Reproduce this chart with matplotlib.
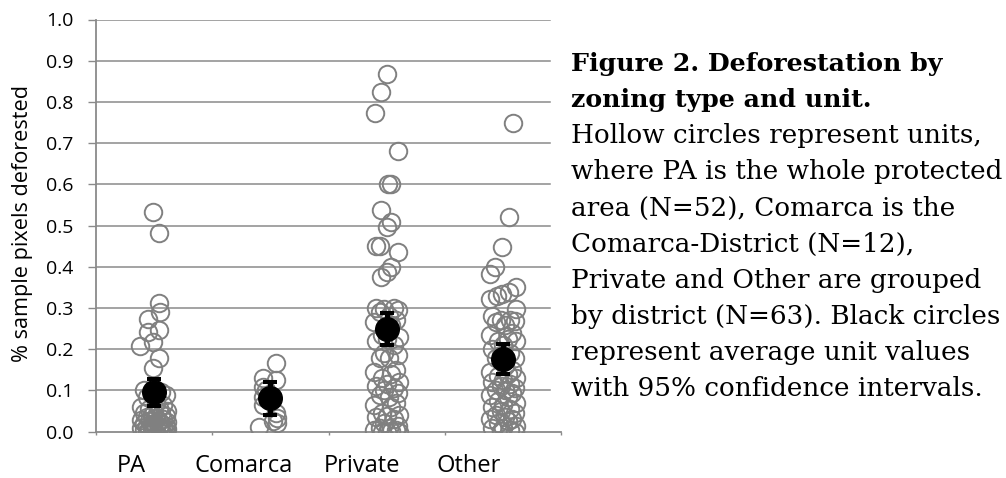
import matplotlib.pyplot as plt
import numpy as np

categories = ["PA", "Comarca", "Private", "Other"]

# Unit values per zoning type. The sparse upper points carry their own
# horizontal jitter; the dense lower ones are spread with a fixed pattern.
pa_upper = [0.534, 0.481, 0.313, 0.291, 0.273, 0.247, 0.243, 0.218, 0.209, 0.178, 0.154]
pa_upper_dx = [-0.01, 0.04, 0.04, 0.05, -0.05, 0.04, -0.05, -0.01, -0.12, 0.04, -0.01]
pa_lower = [0.100, 0.097, 0.095, 0.090, 0.085, 0.070, 0.065, 0.060, 0.058, 0.055,
            0.050, 0.048, 0.045, 0.042, 0.040, 0.038, 0.035, 0.033, 0.030, 0.028,
            0.026, 0.025, 0.023, 0.021, 0.020, 0.018, 0.016, 0.015, 0.013, 0.012,
            0.010, 0.009, 0.008, 0.007, 0.006, 0.005, 0.004, 0.003, 0.002, 0.001,
            0.000]

comarca_upper = [0.166, 0.130, 0.125, 0.109, 0.100, 0.085, 0.065, 0.045, 0.033, 0.025, 0.020, 0.012]
comarca_upper_dx = [0.05, -0.06, 0.05, -0.06, -0.04, -0.06, -0.06, 0.05, 0.06, 0.02, 0.06, -0.10]
comarca_lower = []

private_upper = [0.867, 0.825, 0.772, 0.681, 0.601, 0.601, 0.538, 0.509, 0.497,
                 0.450, 0.450, 0.437, 0.400, 0.388, 0.376]
private_upper_dx = [0.0, -0.05, -0.10, 0.10, 0.01, 0.04, -0.05, 0.04, 0.0,
                    -0.09, -0.06, 0.10, 0.04, 0.0, -0.05]
private_lower = [0.300, 0.300, 0.298, 0.295, 0.290, 0.280, 0.270, 0.265, 0.260, 0.235,
                 0.230, 0.225, 0.220, 0.210, 0.190, 0.185, 0.180, 0.180, 0.150, 0.145,
                 0.140, 0.130, 0.120, 0.115, 0.110, 0.105, 0.100, 0.095, 0.090, 0.085,
                 0.070, 0.065, 0.060, 0.045, 0.040, 0.038, 0.035, 0.030, 0.020, 0.015,
                 0.010, 0.008, 0.005, 0.003, 0.002, 0.000, 0.000, 0.000]

other_upper = [0.750, 0.521, 0.449, 0.400, 0.382, 0.350, 0.340, 0.334, 0.330, 0.322, 0.297]
other_upper_dx = [0.09, 0.05, -0.01, -0.07, -0.11, 0.11, 0.05, -0.01, -0.05, -0.11, 0.11]
other_lower = [0.280, 0.270, 0.270, 0.268, 0.265, 0.260, 0.240, 0.235, 0.225, 0.220,
               0.220, 0.210, 0.200, 0.190, 0.185, 0.180, 0.180, 0.160, 0.150, 0.145,
               0.140, 0.135, 0.130, 0.125, 0.120, 0.115, 0.110, 0.105, 0.100, 0.100,
               0.095, 0.090, 0.085, 0.075, 0.070, 0.065, 0.060, 0.055, 0.050, 0.045,
               0.040, 0.035, 0.030, 0.030, 0.025, 0.020, 0.015, 0.010, 0.008, 0.005,
               0.002, 0.000]

# group means with 95% confidence limits
means = [0.096, 0.081, 0.249, 0.176]
ci_low = [0.062, 0.040, 0.210, 0.140]
ci_high = [0.129, 0.121, 0.289, 0.213]

yticks = [0.0, 0.1, 0.2, 0.3, 0.4, 0.5, 0.6, 0.7, 0.8, 0.9, 1.0]

caption_bold = ["Figure 2. Deforestation by", "zoning type and unit."]
caption_body = ["Hollow circles represent units,",
                "where PA is the whole protected",
                "area (N=52), Comarca is the",
                "Comarca-District (N=12),",
                "Private and Other are grouped",
                "by district (N=63). Black circles",
                "represent average unit values",
                "with 95% confidence intervals."]

GRID = "#8a8a8a"
RING = "#808080"
swarm = [-0.09, 0.06, -0.02, 0.10, -0.06, 0.02, 0.08, -0.11, 0.04, -0.04, 0.11, 0.0]

groups = [(pa_upper, pa_upper_dx, pa_lower),
          (comarca_upper, comarca_upper_dx, comarca_lower),
          (private_upper, private_upper_dx, private_lower),
          (other_upper, other_upper_dx, other_lower)]

fig = plt.figure(figsize=(10.06, 4.78), dpi=100)
ax = fig.add_axes([96 / 1006, 1 - 431.7 / 478, 465 / 1006, 412.2 / 478])

ax.set_xlim(0.5, 4.5)
ax.set_ylim(0, 1)

# horizontal gridlines stop short of the caption
for y in yticks[1:]:
    ax.axhline(y, xmin=0, xmax=(550 - 96) / 465, color=GRID, lw=1.1, zorder=1)

for i, (upper, upper_dx, lower) in enumerate(groups):
    cx = i + 1
    xs = [cx + d for d in upper_dx] + [cx + swarm[k % len(swarm)] for k in range(len(lower))]
    ys = list(upper) + list(lower)
    ax.plot(xs, ys, "o", mfc="none", mec=RING, ms=12.6, mew=1.4, zorder=3)

xc = np.arange(1, len(categories) + 1)
m = np.array(means)
err = [m - np.array(ci_low), np.array(ci_high) - m]
ax.errorbar(xc, m, yerr=err, fmt="o", color="black", ms=17,
            elinewidth=3.8, capsize=4.7, capthick=2.9, zorder=5)

for s in ["top", "right"]:
    ax.spines[s].set_visible(False)
for s in ["left", "bottom"]:
    ax.spines[s].set_color(GRID)
    ax.spines[s].set_linewidth(1.3)

ax.set_yticks(yticks)
ax.set_yticklabels([f"{v:.1f}" for v in yticks])
ax.tick_params(axis="y", direction="out", length=5.8, width=1.0, color=GRID,
               pad=10.5, labelsize=14, labelfontfamily="Open Sans")
ax.set_xticks([0.5, 1.5, 2.5, 3.5, 4.5])
ax.set_xticklabels([])
ax.tick_params(axis="x", direction="out", length=2.5, width=1.0, color=GRID)

# category names sit a little left of their columns
label_x = [0.808, 1.767, 2.79, 3.71]
for name, lx in zip(categories, label_x):
    ax.text(lx, -0.097, name, transform=ax.get_xaxis_transform(), ha="center",
            va="baseline", fontsize=17, family="Open Sans")

fig.text(22.5 / 1006, 1 - 223 / 478, "% sample pixels deforested", rotation=90,
         ha="center", va="center", fontsize=15.6, family="Open Sans")

x0 = 570.7 / 1006
lines = [(t, "bold", 18.2) for t in caption_bold] + [(t, "normal", 18.9) for t in caption_body]
for k, (t, w, size) in enumerate(lines):
    fig.text(x0, 1 - (70.7 + 36.2 * k) / 478, t, ha="left", va="baseline",
             fontsize=size, fontweight=w, family="DejaVu Serif")

fig.savefig("out.png", dpi=100)
